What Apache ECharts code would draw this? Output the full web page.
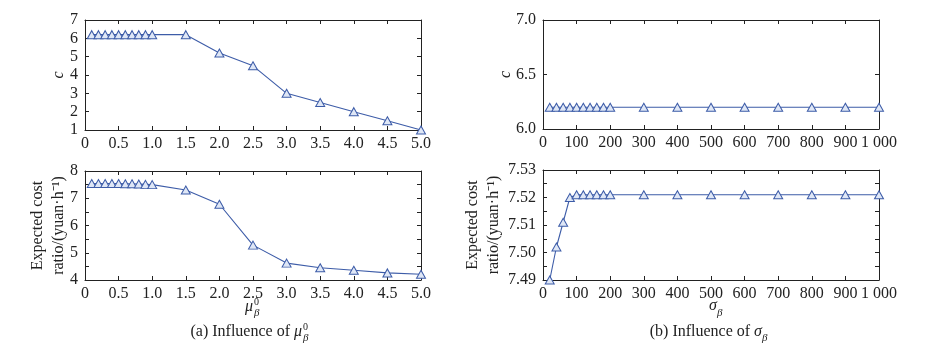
<!DOCTYPE html>
<html>
<head>
<meta charset="utf-8">
<script src="https://cdn.jsdelivr.net/npm/echarts@6/dist/echarts.min.js"></script>
<style>
html,body{margin:0;padding:0;background:#fff;}
#main{width:927px;height:346px;}
</style>
</head>
<body>
<div id="main"></div>
<script>
// ---- data ----
var muX = [0.1,0.2,0.3,0.4,0.5,0.6,0.7,0.8,0.9,1.0,1.5,2.0,2.5,3.0,3.5,4.0,4.5,5.0];
var muC = [6.2,6.2,6.2,6.2,6.2,6.2,6.2,6.2,6.2,6.2,6.2,5.2,4.5,3.0,2.5,2.0,1.5,1.0];
var muCost = [7.54,7.54,7.54,7.54,7.54,7.53,7.53,7.52,7.51,7.50,7.30,6.78,5.28,4.62,4.45,4.36,4.26,4.21];
var sigmaX = [20,40,60,80,100,120,140,160,180,200,300,400,500,600,700,800,900,1000];
var sigmaC = [6.2,6.2,6.2,6.2,6.2,6.2,6.2,6.2,6.2,6.2,6.2,6.2,6.2,6.2,6.2,6.2,6.2,6.2];
var sigmaCost = [7.490,7.502,7.511,7.520,7.521,7.521,7.521,7.521,7.521,7.521,7.521,7.521,7.521,7.521,7.521,7.521,7.521,7.521];
var muTicks = {min:0, max:5, interval:0.5};
var sigmaTicks = {min:0, max:1000, interval:100};

var FONT = "'Liberation Serif', 'Times New Roman', serif";
var TXT = '#222';
var LINE = '#3d5ca8';
var FILL = '#dfe7f6';

function pairs(xs, ys){ return xs.map(function(x,i){return [x, ys[i]];}); }

function xAx(grid, t, fmt, mirror){
  return {
    type:'value', gridIndex:grid, min:t.min, max:t.max, interval:t.interval,
    position: mirror ? 'top' : 'bottom',
    axisLine:{show:true, onZero:false, lineStyle:{color:'#222', width:1}},
    axisTick:{show:true, inside:true, length:4, lineStyle:{color:'#222'}},
    axisLabel:{show:!mirror, margin:6, fontFamily:FONT, fontSize:16, color:TXT, formatter:fmt},
    splitLine:{show:false}
  };
}
function yAx(grid, min, max, interval, fmt, name, gap, minor, mirror){
  return {
    type:'value', gridIndex:grid, min:min, max:max, interval:interval,
    position: mirror ? 'right' : 'left',
    name: mirror ? '' : name, nameLocation:'middle', nameRotate:90, nameGap:gap,
    nameMoveOverlap:false,
    nameTextStyle:{fontFamily:FONT, fontSize:16, color:TXT, lineHeight:21, fontStyle: name==='c'?'italic':'normal'},
    axisLine:{show:true, onZero:false, lineStyle:{color:'#222', width:1}},
    axisTick:{show:true, inside:true, length:4, lineStyle:{color:'#222'}},
    minorTick:{show:!!minor, splitNumber:2, length:4, lineStyle:{color:'#222'}},
    axisLabel:{show:!mirror, margin:7, fontFamily:FONT, fontSize:16, color:TXT, formatter:fmt},
    splitLine:{show:false}
  };
}
var fmtMu = function(v){ return v===0 ? '0' : v.toFixed(1); };
var fmtSig = function(v){ return v===1000 ? '1 000' : String(v); };
var costName = 'Expected cost\nratio/(yuan·h\u207B\u00B9)';

function ser(xi, yi, data){
  return {
    type:'line', xAxisIndex:xi, yAxisIndex:yi, data:data, clip:false,
    symbol:'triangle', symbolSize:[9,8],
    lineStyle:{color:LINE, width:1.1},
    itemStyle:{color:FILL, borderColor:LINE, borderWidth:1},
    animation:false
  };
}

var grids = [
  {left:85, top:20, width:336, height:110},
  {left:85, top:171, width:336, height:109},
  {left:543, top:20, width:336, height:109},
  {left:543, top:170, width:336, height:110}
];

var xAxes = [
  xAx(0, muTicks, fmtMu, false), xAx(1, muTicks, fmtMu, false),
  xAx(2, sigmaTicks, fmtSig, false), xAx(3, sigmaTicks, fmtSig, false),
  xAx(0, muTicks, fmtMu, true), xAx(1, muTicks, fmtMu, true),
  xAx(2, sigmaTicks, fmtSig, true), xAx(3, sigmaTicks, fmtSig, true)
];
var f1 = function(v){return v.toFixed(1);};
var f2 = function(v){return v.toFixed(2);};
var f0 = function(v){return String(v);};
var yAxes = [
  yAx(0, 1, 7, 1, f0, 'c', 16, false, false),
  yAx(1, 4, 8, 1, f0, costName, 16, true, false),
  yAx(2, 6, 7, 0.5, f1, 'c', 27, false, false),
  yAx(3, 7.49, 7.53, 0.01, f2, costName, 39, true, false),
  yAx(0, 1, 7, 1, f0, '', 0, false, true),
  yAx(1, 4, 8, 1, f0, '', 0, true, true),
  yAx(2, 6, 7, 0.5, f1, '', 0, false, true),
  yAx(3, 7.49, 7.53, 0.01, f2, '', 0, true, true)
];

function txt(x, y, s, size, align, italic){
  return {type:'text', x:x, y:y, style:{text:s, fontFamily:FONT, fontSize:size, fill:TXT,
    align:align||'left', verticalAlign:'middle', fontStyle: italic?'italic':'normal'}};
}

var graphics = [
  // x-axis name (a)
  txt(253, 307, 'μ', 16, 'right', true),
  txt(254, 302, '0', 10, 'left', false),
  txt(254, 313, 'β', 11, 'left', true),
  // caption (a)
  {type:'text', x:302, y:332, style:{text:'(a) Influence of {m|μ}', rich:{m:{fontStyle:'italic', fontFamily:FONT, fontSize:16, fill:TXT}},
    fontFamily:FONT, fontSize:16, fill:TXT, align:'right', verticalAlign:'middle'}},
  txt(303, 327, '0', 10, 'left', false),
  txt(303, 338, 'β', 11, 'left', true),
  // x-axis name (b)
  txt(717, 306, 'σ', 16, 'right', true),
  txt(717, 313, 'β', 11, 'left', true),
  // caption (b)
  {type:'text', x:762, y:332, style:{text:'(b) Influence of {m|σ}', rich:{m:{fontStyle:'italic', fontFamily:FONT, fontSize:16, fill:TXT}},
    fontFamily:FONT, fontSize:16, fill:TXT, align:'right', verticalAlign:'middle'}},
  txt(762, 338, 'β', 11, 'left', true)
];

var chart = echarts.init(document.getElementById('main'), null, {renderer:'canvas'});
chart.setOption({
  animation:false,
  backgroundColor:'#fff',
  grid:grids,
  xAxis:xAxes,
  yAxis:yAxes,
  series:[
    ser(0,0,pairs(muX,muC)),
    ser(1,1,pairs(muX,muCost)),
    ser(2,2,pairs(sigmaX,sigmaC)),
    ser(3,3,pairs(sigmaX,sigmaCost))
  ],
  graphic:graphics
});
</script>
</body>
</html>
